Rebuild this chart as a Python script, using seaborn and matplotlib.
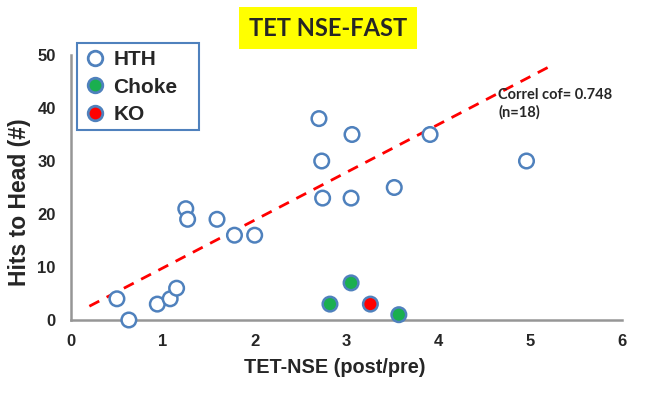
import matplotlib

matplotlib.use("Agg")
import matplotlib.pyplot as plt
import seaborn as sns
import pandas as pd
from matplotlib.patches import Rectangle

# hits-to-head vs TET-NSE ratio
hth_x = [0.50, 0.63, 0.94, 1.08, 1.15, 1.25, 1.27, 1.59, 1.78, 2.00,
         2.70, 2.73, 2.74, 3.05, 3.06, 3.52, 3.91, 4.96]
hth_y = [4, 0, 3, 4, 6, 21, 19, 19, 16, 16,
         38, 30, 23, 23, 35, 25, 35, 30]
choke_x = [2.82, 3.05, 3.57]
choke_y = [3, 7, 1]
ko_x = [3.26]
ko_y = [3]
trend_x = [0.2, 5.22]
trend_y = [2.6, 47.9]

x_ticks = [0, 1, 2, 3, 4, 5, 6]
y_ticks = [0, 10, 20, 30, 40, 50]

df = pd.DataFrame({
    "x": hth_x + choke_x + ko_x,
    "y": hth_y + choke_y + ko_y,
    "group": ["HTH"] * len(hth_x) + ["Choke"] * len(choke_x) + ["KO"] * len(ko_x),
})

sns.set_style("white")
plt.rcParams["font.family"] = ["Liberation Sans", "DejaVu Sans"]

fig = plt.figure(figsize=(6.72, 3.96), dpi=100)
ax = fig.add_axes([71 / 672, 1 - 320 / 396, 551 / 672, 265 / 396])

edge = "#4f81bd"
ax.plot(trend_x, trend_y, color="#ff0000", lw=2, ls=(0, (4, 3)), zorder=1)

palette = {"HTH": "white", "Choke": "#1aaf4f", "KO": "#ff0000"}
sns.scatterplot(data=df, x="x", y="y", hue="group", palette=palette,
                edgecolor=edge, linewidth=1.8, s=110, ax=ax, legend=False,
                zorder=3, clip_on=False)

ax.set_xlim(0, 6)
ax.set_ylim(0, 50)
ax.set_xticks(x_ticks)
ax.set_yticks(y_ticks)
for side in ["top", "right"]:
    ax.spines[side].set_visible(False)
for side in ["left", "bottom"]:
    ax.spines[side].set_color("#969696")
    ax.spines[side].set_linewidth(1.8)
ax.tick_params(axis="both", direction="out", length=5, width=1.5,
               color="#969696", labelsize=12)
ax.tick_params(axis="y", pad=6)
ax.tick_params(axis="x", pad=5)
for lab in ax.get_xticklabels() + ax.get_yticklabels():
    lab.set_fontweight("bold")

ax.set_xlabel("TET-NSE (post/pre)", fontsize=14.3, fontweight="bold")
ax.xaxis.set_label_coords((335 - 71) / 551, (320 - 358) / 265)
ax.set_ylabel("Hits to Head (#)", fontsize=16.5, fontweight="bold")
ax.yaxis.set_label_coords((31 - 71) / 551, (320 - 202) / 265)

# legend: plain box drawn separately so it can be wider than the text
fig.add_artist(Rectangle((77 / 672, 1 - 130 / 396), 122 / 672, 87 / 396,
                         transform=fig.transFigure, facecolor="white",
                         edgecolor=edge, linewidth=1.5, zorder=4))
handles = [
    plt.Line2D([], [], ls="", marker="o", ms=10.5, mfc=palette[g], mec=edge, mew=2)
    for g in ["HTH", "Choke", "KO"]
]
leg = fig.legend(handles, ["HTH", "Choke", "KO"], loc="upper left",
                 bbox_to_anchor=(77 / 672, 1 - 44 / 396), frameon=False,
                 handletextpad=0.3, labelspacing=0.4, borderpad=0.3,
                 handlelength=1.15, borderaxespad=0,
                 prop={"weight": "bold", "size": 15})
leg.set_zorder(5)

ax.text(4.65, 43.8, "Correl cof= 0.748\n(n=18)", fontsize=10.5,
        family=["Lato", "DejaVu Sans"], fontweight="bold", va="top", ha="left",
        linespacing=1.25)

fig.text(328 / 672, 1 - 28 / 396, "TET NSE-FAST", ha="center", va="center",
         fontsize=17, fontweight="bold", family=["Lato", "DejaVu Sans"],
         bbox=dict(facecolor="#ffff00", edgecolor="none", pad=7))

fig.savefig("out.png", dpi=100)
